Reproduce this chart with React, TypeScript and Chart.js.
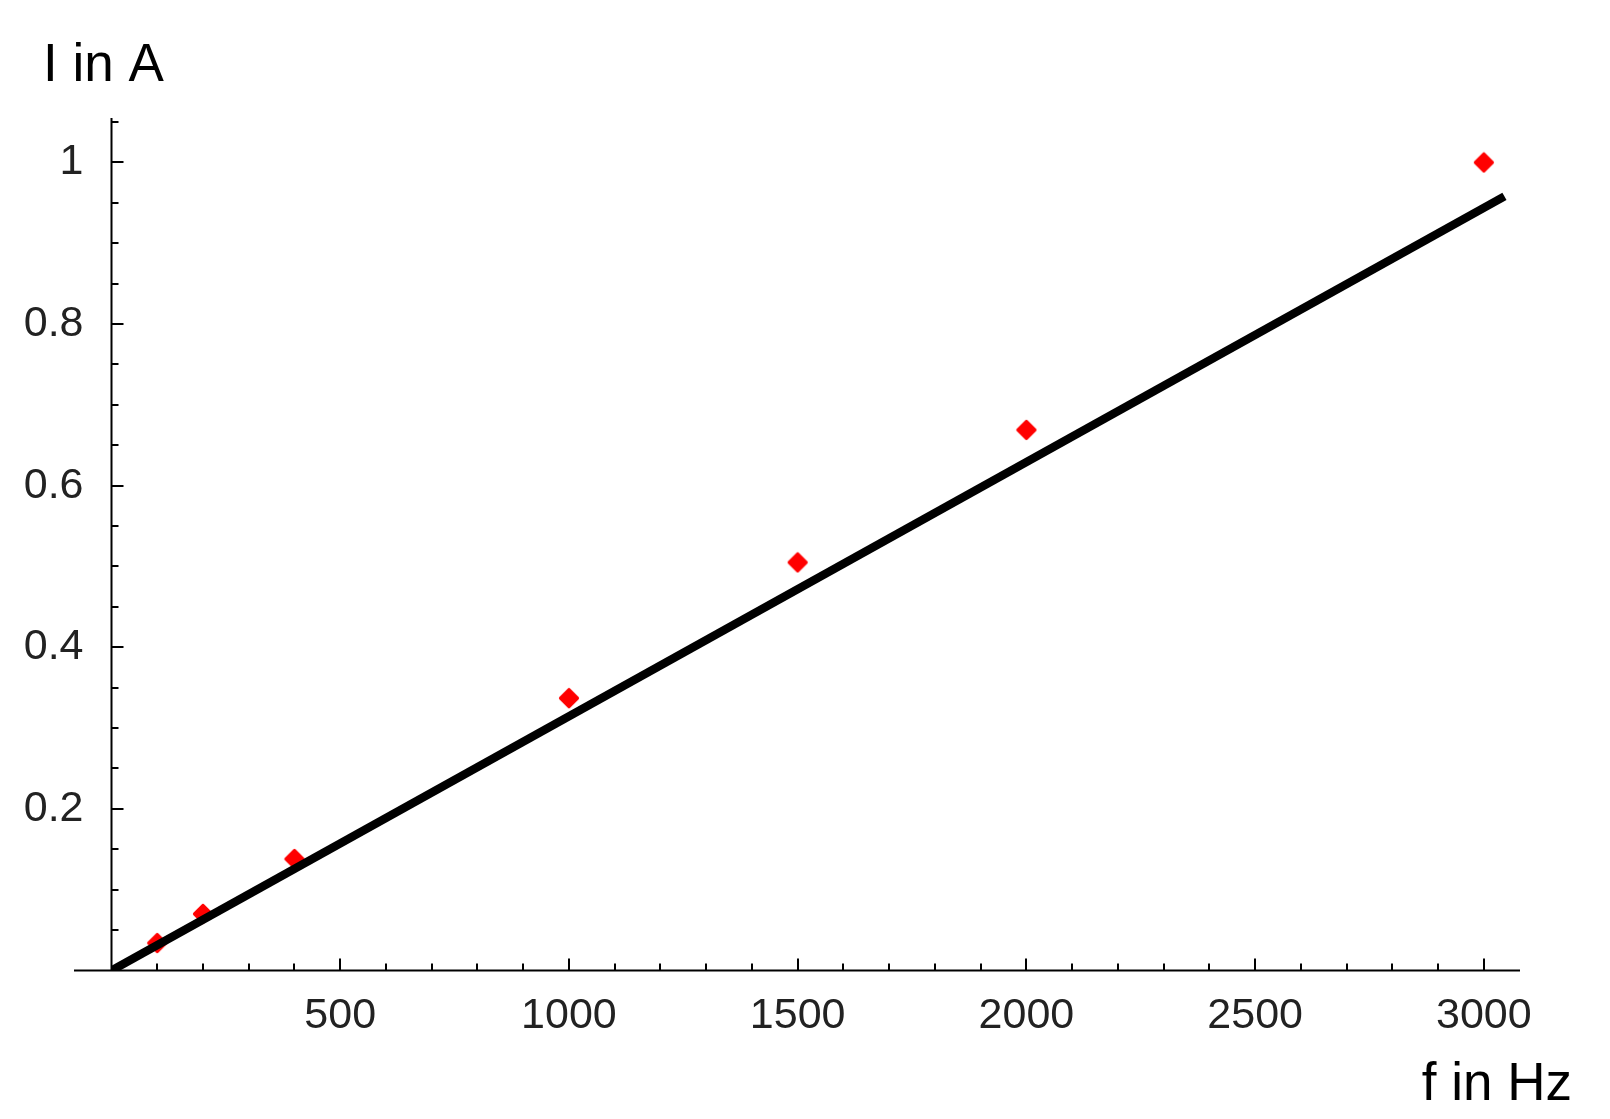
import React, { useEffect, useRef } from 'react';
import { Chart, registerables } from 'chart.js';

Chart.register(...registerables);

// Measured data (f in Hz, I in A)
const frequencyHz = [100, 200, 400, 1000, 1500, 2000, 3000];
const currentA = [0.034, 0.07, 0.138, 0.337, 0.505, 0.669, 1.0];

// Fitted straight line (end points)
const fitFrequencyHz = [0, 3045];
const fitCurrentA = [0, 0.958];

// Tick marks and labels
const xTickValues = [
  100, 200, 300, 400, 500, 600, 700, 800, 900, 1000,
  1100, 1200, 1300, 1400, 1500, 1600, 1700, 1800, 1900, 2000,
  2100, 2200, 2300, 2400, 2500, 2600, 2700, 2800, 2900, 3000,
];
const xTickLabels = [500, 1000, 1500, 2000, 2500, 3000];
const yTickValues = [
  0.05, 0.1, 0.15, 0.2, 0.25, 0.3, 0.35, 0.4, 0.45, 0.5,
  0.55, 0.6, 0.65, 0.7, 0.75, 0.8, 0.85, 0.9, 0.95, 1, 1.05,
];
const yTickLabels = [0.2, 0.4, 0.6, 0.8, 1];

// Axis extents
const xAxisExtent = [-82, 3079];
const yAxisExtent = [0, 1.055];

const xAxisTitle = 'f in Hz';
const yAxisTitle = 'I in A';

const FONT = "'Liberation Sans', Arial, sans-serif";

const isIn = (list: number[], v: number) => list.some((l) => Math.abs(l - v) < 1e-9);

function makeMarker(): HTMLCanvasElement {
  const c = document.createElement('canvas');
  c.width = 22;
  c.height = 22;
  const g = c.getContext('2d')!;
  const cx = 11;
  const r = 8.3;
  g.fillStyle = '#ff0000';
  g.strokeStyle = '#ff0000';
  g.lineWidth = 3.6;
  g.lineJoin = 'round';
  g.beginPath();
  g.moveTo(cx, cx - r);
  g.lineTo(cx + r, cx);
  g.lineTo(cx, cx + r);
  g.lineTo(cx - r, cx);
  g.closePath();
  g.fill();
  g.stroke();
  return c;
}

const axesPlugin = {
  id: 'mathAxes',
  beforeDatasetsDraw(chart: any) {
    const { ctx } = chart;
    const x = chart.scales.x;
    const y = chart.scales.y;
    const x0 = x.getPixelForValue(0);
    const y0 = y.getPixelForValue(0);
    ctx.save();
    ctx.strokeStyle = '#000';
    ctx.lineWidth = 2;
    ctx.beginPath();
    ctx.moveTo(x.getPixelForValue(xAxisExtent[0]), y0);
    ctx.lineTo(x.getPixelForValue(xAxisExtent[1]), y0);
    ctx.moveTo(x0, y.getPixelForValue(yAxisExtent[0]));
    ctx.lineTo(x0, y.getPixelForValue(yAxisExtent[1]));
    x.ticks.forEach((t: any) => {
      const px = Math.round(x.getPixelForValue(t.value));
      const len = isIn(xTickLabels, t.value) ? 12 : 7;
      ctx.moveTo(px, y0);
      ctx.lineTo(px, y0 - len);
    });
    y.ticks.forEach((t: any) => {
      const py = Math.round(y.getPixelForValue(t.value));
      const len = isIn(yTickLabels, t.value) ? 12 : 7;
      ctx.moveTo(x0, py);
      ctx.lineTo(x0 + len, py);
    });
    ctx.stroke();
    ctx.restore();
  },
  afterDraw(chart: any) {
    const { ctx } = chart;
    ctx.save();
    ctx.fillStyle = '#000';
    ctx.font = `53px ${FONT}`;
    ctx.textBaseline = 'alphabetic';
    ctx.textAlign = 'left';
    ctx.fillText(yAxisTitle, 43, 81);
    ctx.textAlign = 'right';
    ctx.fillText(xAxisTitle, 1572, 1100);
    ctx.restore();
  },
};

export default function App() {
  const canvasRef = useRef<HTMLCanvasElement | null>(null);

  useEffect(() => {
    if (!canvasRef.current) return;
    const marker = makeMarker();
    const chart = new Chart(canvasRef.current, {
      type: 'scatter',
      data: {
        datasets: [
          {
            type: 'line',
            label: 'fit',
            data: fitFrequencyHz.map((f, i) => ({ x: f, y: fitCurrentA[i] })),
            borderColor: '#000',
            borderWidth: 8.5,
            pointRadius: 0,
            fill: false,
            order: 0,
          } as any,
          {
            type: 'scatter',
            label: 'measured',
            data: frequencyHz.map((f, i) => ({ x: f, y: currentA[i] })),
            backgroundColor: '#ff0000',
            borderColor: '#ff0000',
            borderWidth: 0,
            pointStyle: marker as any,
            pointRadius: 10,
            order: 1,
          },
        ],
      },
      options: {
        responsive: false,
        animation: false,
        layout: { padding: { left: 0, right: 90, top: 118, bottom: 0 } },
        plugins: {
          legend: { display: false },
          tooltip: { enabled: false },
          title: { display: false },
        },
        scales: {
          x: {
            type: 'linear',
            position: 'bottom',
            min: 0,
            max: xAxisExtent[1],
            afterBuildTicks: (s: any) => {
              s.ticks = xTickValues.map((v) => ({ value: v }));
            },
            afterFit: (s: any) => {
              s.height = 148.5;
            },
            grid: { display: false, drawTicks: false },
            border: { display: false },
            ticks: {
              autoSkip: false,
              maxRotation: 0,
              minRotation: 0,
              padding: 20,
              color: '#222',
              font: { family: FONT, size: 43 },
              callback: (v: any) => (isIn(xTickLabels, Number(v)) ? String(v) : ''),
            },
          },
          y: {
            type: 'linear',
            position: 'left',
            min: yAxisExtent[0],
            max: yAxisExtent[1],
            afterBuildTicks: (s: any) => {
              s.ticks = yTickValues.map((v) => ({ value: v }));
            },
            afterFit: (s: any) => {
              s.width = 111.5;
            },
            grid: { display: false, drawTicks: false },
            border: { display: false },
            ticks: {
              autoSkip: false,
              padding: 28,
              color: '#222',
              font: { family: FONT, size: 43 },
              callback: (v: any) => (isIn(yTickLabels, Number(v)) ? String(v) : ''),
            },
          },
        },
      },
      plugins: [axesPlugin],
    });
    return () => chart.destroy();
  }, []);

  return (
    <div style={{ position: 'absolute', left: 0, top: 0, width: 1610, height: 1119, background: '#fff' }}>
      <canvas ref={canvasRef} width={1610} height={1119} style={{ display: 'block' }} />
    </div>
  );
}
